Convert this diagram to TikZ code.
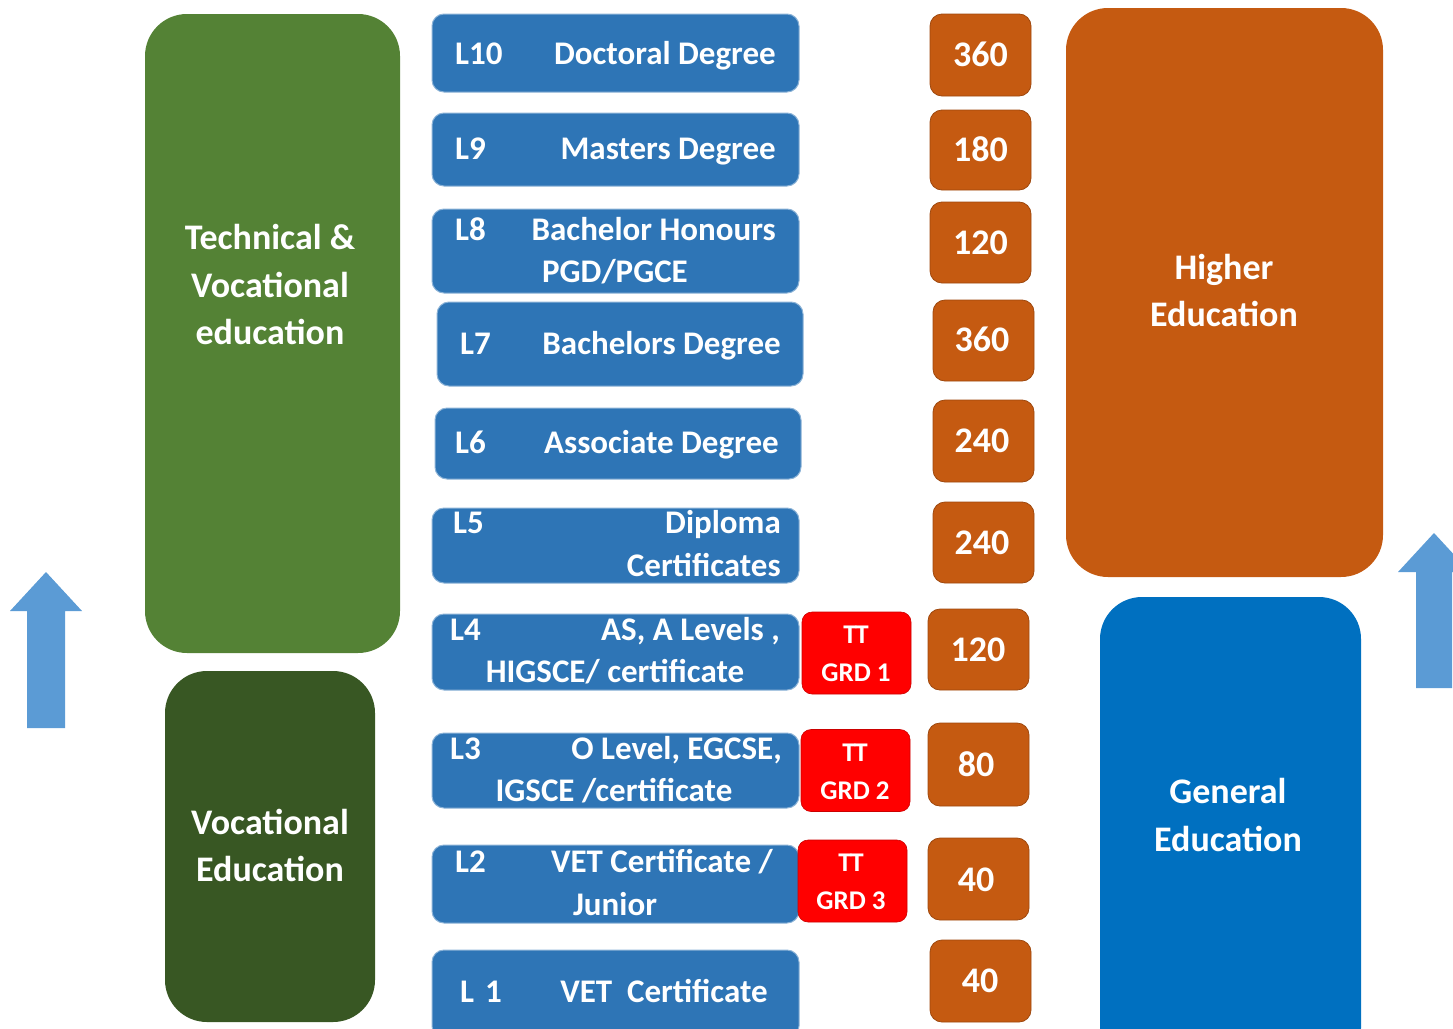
\documentclass[tikz,border=0pt]{standalone}
\usepackage{fontspec}
\setmainfont{Carlito}
\definecolor{lvlblue}{HTML}{2E75B6}
\definecolor{credorange}{HTML}{C55A11}
\definecolor{ttred}{HTML}{FF0000}
\definecolor{tvegreen}{HTML}{548235}
\definecolor{vocgreen}{HTML}{385723}
\definecolor{genblue}{HTML}{0070C0}
\definecolor{arrowblue}{HTML}{5B9BD5}
\begin{document}
\begin{tikzpicture}[x=1pt,y=-1pt,
  lvlbox/.style={draw=lvlblue!55!white,line width=1pt,fill=lvlblue,rounded corners=12pt,inner sep=0pt,minimum width=367pt},
  credbox/.style={draw=credorange!80!black,line width=0.8pt,fill=credorange,rounded corners=12pt,inner sep=0pt,minimum width=101pt,minimum height=81pt},
  ttbox/.style={draw=ttred!80!black,line width=0.6pt,fill=ttred,rounded corners=10pt,inner sep=0pt,minimum width=109pt,minimum height=82pt},
  bigbox/.style={rounded corners=42pt,inner sep=0pt},
  lvltxt/.style={text=white,inner sep=0pt,font=\fontsize{33}{40}\bfseries\selectfont},
  lvlL/.style={lvltxt,anchor=base west},
  lvlR/.style={lvltxt,anchor=base east},
  lvlC/.style={lvltxt,anchor=base},
  credtxt/.style={text=white,inner sep=0pt,anchor=base,font=\fontsize{36}{40}\bfseries\selectfont},
  tttxt/.style={text=white,inner sep=0pt,anchor=base,font=\fontsize{27}{30}\bfseries\selectfont},
  bigtxt/.style={text=white,inner sep=0pt,anchor=base,font=\fontsize{36}{40}\bfseries\selectfont}
]
\useasboundingbox (0,0) rectangle (1453,1028);
\begin{scope}
\clip (0,0) rectangle (1453,1028);
% arrows
\fill[arrowblue] (46,572) coordinate (la) -- (82,611) -- (65,611) -- (65,728) -- (27,728) -- (27,611) -- (10,611) -- cycle;
\fill[arrowblue] (1434,533) coordinate (ra) -- (1470,572) -- (1452,572) -- (1452,688) -- (1416,688) -- (1416,572) -- (1398,572) -- cycle;

% big boxes
\node[bigbox,fill=tvegreen,minimum width=255pt,minimum height=639pt] (tve) at (272.5,333.5) {};
\node[bigbox,fill=vocgreen,minimum width=210pt,minimum height=351pt] (voc) at (270,846.5) {};
\node[bigbox,fill=credorange,minimum width=317pt,minimum height=569pt] (he) at (1224.5,292.5) {};
\node[bigbox,fill=genblue,minimum width=261pt,minimum height=473pt] (ge) at (1230.5,833.5) {};

\node[bigtxt] (tve1) at (270,249.6) {Technical \&};
\node[bigtxt] (tve2) at (270,297.6) {Vocational};
\node[bigtxt] (tve3) at (270,344.6) {education};
\node[bigtxt] (voc1) at (270,834.6) {Vocational};
\node[bigtxt] (voc2) at (270,881.6) {Education};
\node[bigtxt] (he1) at (1224,279.6) {Higher};
\node[bigtxt] (he2) at (1224,326.6) {Education};
\node[bigtxt] (ge1) at (1228,803.6) {General};
\node[bigtxt] (ge2) at (1228,851.6) {Education};

% level boxes
\node[lvlbox,minimum height=78pt] (l10) at (615.5,53) {};
\node[lvlbox,minimum height=73pt] (l9) at (615.5,149.5) {};
\node[lvlbox,minimum height=84pt] (l8) at (615.5,251) {};
\node[lvlbox,minimum height=84pt,minimum width=366pt] (l7) at (620,344) {};
\node[lvlbox,minimum height=71pt,minimum width=366pt] (l6) at (618,443.5) {};
\node[lvlbox,minimum height=75pt] (l5) at (615.5,545.5) {};
\node[lvlbox,minimum height=76pt] (l4) at (615.5,652) {};
\node[lvlbox,minimum height=75pt] (l3) at (615.5,770.5) {};
\node[lvlbox,minimum height=78pt] (l2) at (615.5,884) {};
\node[lvlbox,minimum height=88pt] (l1) at (615.5,994) {};

\node[lvlL] (l10a) at (455,64.5) {L10};
\node[lvlR] (l10b) at (776,64.5) {Doctoral Degree};
\node[lvlL] (l9a) at (455,159.5) {L9};
\node[lvlR] (l9b) at (776,159.5) {Masters Degree};
\node[lvlL] (l8a) at (455,240.5) {L8};
\node[lvlR] (l8b) at (776,240.5) {Bachelor Honours};
\node[lvlC] (l8c) at (615,282.5) {PGD/PGCE};
\node[lvlL] (l7a) at (460,354.5) {L7};
\node[lvlR] (l7b) at (781,354.5) {Bachelors Degree};
\node[lvlL] (l6a) at (455,453.5) {L6};
\node[lvlR] (l6b) at (779,453.5) {Associate Degree};
\node[lvlL] (l5a) at (453,533.5) {L5};
\node[lvlR] (l5b) at (781,533.5) {Diploma};
\node[lvlR] (l5c) at (781,576.5) {Certificates};
\node[lvlL] (l4a) at (450,640.5) {L4};
\node[lvlR] (l4b) at (780,640.5) {AS, A Levels ,};
\node[lvlC] (l4c) at (615,682.5) {HIGSCE/ certificate};
\node[lvlL] (l3a) at (450,759.5) {L3};
\node[lvlR] (l3b) at (782,759.5) {O Level, EGCSE,};
\node[lvlC] (l3c) at (614,801.5) {IGSCE /certificate};
\node[lvlL] (l2a) at (455,872.5) {L2};
\node[lvlR] (l2b) at (773,872.5) {VET Certificate /};
\node[lvlC] (l2c) at (615,915.5) {Junior};
\node[lvlL] (l1a) at (460,1002.5) {L\,\,1};
\node[lvlR] (l1b) at (768,1002.5) {VET\ \ Certificate};

% TT boxes
\node[ttbox] (t1) at (856.5,653) {};
\node[ttbox] (t2) at (855.5,770.5) {};
\node[ttbox] (t3) at (852.5,881) {};
\node[tttxt] (t1a) at (856,643) {T\kern-1.5pt T};
\node[tttxt] (t1b) at (856,681) {GRD 1};
\node[tttxt] (t2a) at (855,761) {T\kern-1.5pt T};
\node[tttxt] (t2b) at (855,799) {GRD 2};
\node[tttxt] (t3a) at (851,871) {T\kern-1.5pt T};
\node[tttxt] (t3b) at (851,909) {GRD 3};

% credit boxes
\node[credbox,minimum height=82pt] (c10) at (980.5,55) {};
\node[credbox,minimum height=80pt] (c9) at (980.5,150) {};
\node[credbox] (c8) at (980.5,242.5) {};
\node[credbox] (c7) at (983.5,340.5) {};
\node[credbox,minimum height=82pt] (c6) at (983.5,441) {};
\node[credbox] (c5) at (983.5,542.5) {};
\node[credbox] (c4) at (978.5,649.5) {};
\node[credbox,minimum height=83pt] (c3) at (978.5,764.5) {};
\node[credbox,minimum height=82pt] (c2) at (978.5,879) {};
\node[credbox,minimum height=82pt] (c1) at (980.5,981) {};

\node[credtxt] (c10t) at (980.5,66.5) {360};
\node[credtxt] (c9t) at (980.5,161.5) {180};
\node[credtxt] (c8t) at (980.5,254.5) {120};
\node[credtxt] (c7t) at (982,351.5) {360};
\node[credtxt] (c6t) at (982,452.5) {240};
\node[credtxt] (c5t) at (982,554.5) {240};
\node[credtxt] (c4t) at (978,661.5) {120};
\node[credtxt] (c3t) at (976,776.5) {80};
\node[credtxt] (c2t) at (976,891.5) {40};
\node[credtxt] (c1t) at (980,992.5) {40};
\end{scope}
\end{tikzpicture}
\end{document}
